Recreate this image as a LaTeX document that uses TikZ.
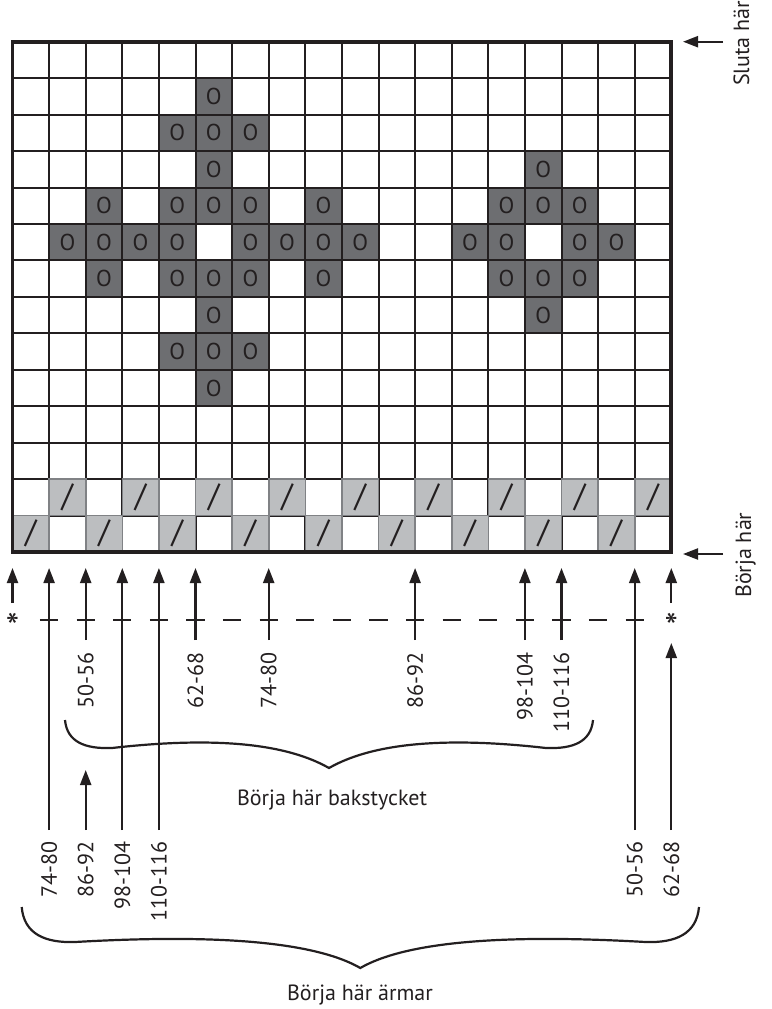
\documentclass[tikz,border=0pt]{standalone}
\usepackage{fontspec}
\setmainfont{PT Sans}
\usetikzlibrary{arrows.meta}
\definecolor{ink}{HTML}{231F20}
\definecolor{darkgrey}{HTML}{6D6E71}
\definecolor{lightgrey}{HTML}{BCBEC0}
\definecolor{lightedge}{HTML}{808285}
\begin{document}
\begin{tikzpicture}[x=1pt,y=-1pt,
  gridline/.style={ink, line width=2pt},
  gridframe/.style={ink, line width=3.8pt},
  lightcell/.style={fill=lightgrey, draw=lightedge, line width=1.6pt},
  cellsym/.style={inner sep=0pt, text=ink, font=\fontsize{23}{23}\selectfont},
  cellslash/.style={inner sep=0pt, text=ink, font=\fontsize{32}{32}\selectfont},
  upar/.style={ink, line width=2.2pt, -{Triangle[length=15pt,width=11pt]}},
  numlab/.style={rotate=90, anchor=east, inner sep=0pt, text=ink, font=\fontsize{22}{22}\selectfont},
  sidetext/.style={rotate=90, inner sep=0pt, text=ink, font=\fontsize{22}{22}\selectfont},
  bottomtext/.style={anchor=base, inner sep=0pt, text=ink, font=\fontsize{22}{22}\selectfont},
  startext/.style={anchor=north, inner sep=0pt, text=ink, font=\fontsize{38}{38}\selectfont},
  bracepath/.style={ink, line width=2.2pt},
  dashguide/.style={ink, line width=2.2pt, dash pattern=on 18.3pt off 18.3pt},
]
\useasboundingbox (0,0) rectangle (771,1009);
\def\cw{36.6}\def\rh{36.45}\def\gx{12.5}\def\gy{41.7}
% dark cells
\foreach \r/\c in {1/5,2/4,2/5,2/6,3/5,3/14,4/2,4/4,4/5,4/6,4/8,4/13,4/14,4/15,
  5/1,5/2,5/3,5/4,5/6,5/7,5/8,5/9,5/12,5/13,5/15,5/16,
  6/2,6/4,6/5,6/6,6/8,6/13,6/14,6/15,7/5,7/14,8/4,8/5,8/6,9/5}
  \fill[darkgrey] ({\gx+\cw*\c},{\gy+\rh*\r}) rectangle ({\gx+\cw*(\c+1)},{\gy+\rh*(\r+1)});
% grid lines
\foreach \i in {1,...,17}
  \draw[gridline] ({\gx+\cw*\i},\gy) -- ({\gx+\cw*\i},{\gy+14*\rh});
\foreach \j in {1,...,13}
  \draw[gridline] (\gx,{\gy+\rh*\j}) -- ({\gx+18*\cw},{\gy+\rh*\j});
% light cells
\foreach \r/\c in {12/1,12/3,12/5,12/7,12/9,12/11,12/13,12/15,12/17,
  13/0,13/2,13/4,13/6,13/8,13/10,13/12,13/14,13/16}
  \draw[lightcell] ({\gx+\cw*\c},{\gy+\rh*\r}) rectangle ({\gx+\cw*(\c+1)},{\gy+\rh*(\r+1)});
% frame
\draw[gridframe] (\gx,\gy) rectangle ({\gx+18*\cw},{\gy+14*\rh});
% symbols
\foreach \r/\c in {1/5,2/4,2/5,2/6,3/5,3/14,4/2,4/4,4/5,4/6,4/8,4/13,4/14,4/15,
  5/1,5/2,5/3,5/4,5/6,5/7,5/8,5/9,5/12,5/13,5/15,5/16,
  6/2,6/4,6/5,6/6,6/8,6/13,6/14,6/15,7/5,7/14,8/4,8/5,8/6,9/5}
  \node[cellsym] (o\r-\c) at ({\gx+\cw*(\c+0.5)},{\gy+\rh*(\r+0.5)}) {O};
\foreach \r/\c in {12/1,12/3,12/5,12/7,12/9,12/11,12/13,12/15,12/17,
  13/0,13/2,13/4,13/6,13/8,13/10,13/12,13/14,13/16}
  \node[cellslash] (s\r-\c) at ({\gx+\cw*(\c+0.5)},{\gy+\rh*(\r+0.5)}) {/};
% dashed guide
\coordinate (dashL) at ({\gx+\cw-9.15},620);
\coordinate (dashR) at ({\gx+17*\cw+9.15},620);
\draw[dashguide] (dashL) -- (dashR);
% short star arrows
\foreach \k in {0,18}{
  \coordinate (st\k) at ({\gx+\cw*\k},568);
  \coordinate (sb\k) at ({\gx+\cw*\k},603);
  \draw[upar] (sb\k) -- (st\k);
  \node[startext] (star\k) at ({\gx+\cw*\k},613) {*};
}
% back piece arrows
\foreach \k/\t in {2/50-56,5/62-68,7/74-80,11/86-92,14/98-104,15/110-116}{
  \coordinate (bt\k) at ({\gx+\cw*\k},568);
  \coordinate (bb\k) at ({\gx+\cw*\k},640);
  \draw[upar] (bb\k) -- (bt\k);
  \node[numlab] (bl\k) at ({\gx+\cw*\k},652) {\t};
}
% sleeve arrows
\foreach \k/\tip/\t in {1/568/74-80,2/770/86-92,3/568/98-104,4/568/110-116,17/568/50-56,18/643/62-68}{
  \coordinate (at\k) at ({\gx+\cw*\k},\tip);
  \coordinate (ab\k) at ({\gx+\cw*\k},830);
  \draw[upar] (ab\k) -- (at\k);
  \node[numlab] (al\k) at ({\gx+\cw*\k},841.7) {\t};
}
% side arrows
\coordinate (slutaA) at (723,\gy); \coordinate (slutaB) at (683,\gy);
\draw[upar] (slutaA) -- (slutaB);
\coordinate (borjaA) at (723,554); \coordinate (borjaB) at (683,554);
\draw[upar] (borjaA) -- (borjaB);
\node[sidetext, anchor=base east] (sluta) at (749,1) {Sluta här};
\node[sidetext, anchor=base west] (borja) at (751,598) {Börja här};
% braces
\draw[bracepath] (65,720) .. controls (67,742) and (85,749) .. (112,748)
  .. controls (200,738) and (280,740) .. (329,768)
  .. controls (378,740) and (458,738) .. (546,748)
  .. controls (573,749) and (591,742) .. (593,720);
\draw[bracepath] (21.7,907) .. controls (24,934) and (45,943) .. (75,942)
  .. controls (180,936) and (305,936) .. (360.3,968)
  .. controls (415.6,936) and (540.6,936) .. (645.6,942)
  .. controls (675.6,943) and (696.6,934) .. (699,907);
\node[bottomtext] (bak) at (332,805) {Börja här bakstycket};
\node[bottomtext] (arm) at (360,1000) {Börja här ärmar};
\end{tikzpicture}
\end{document}
